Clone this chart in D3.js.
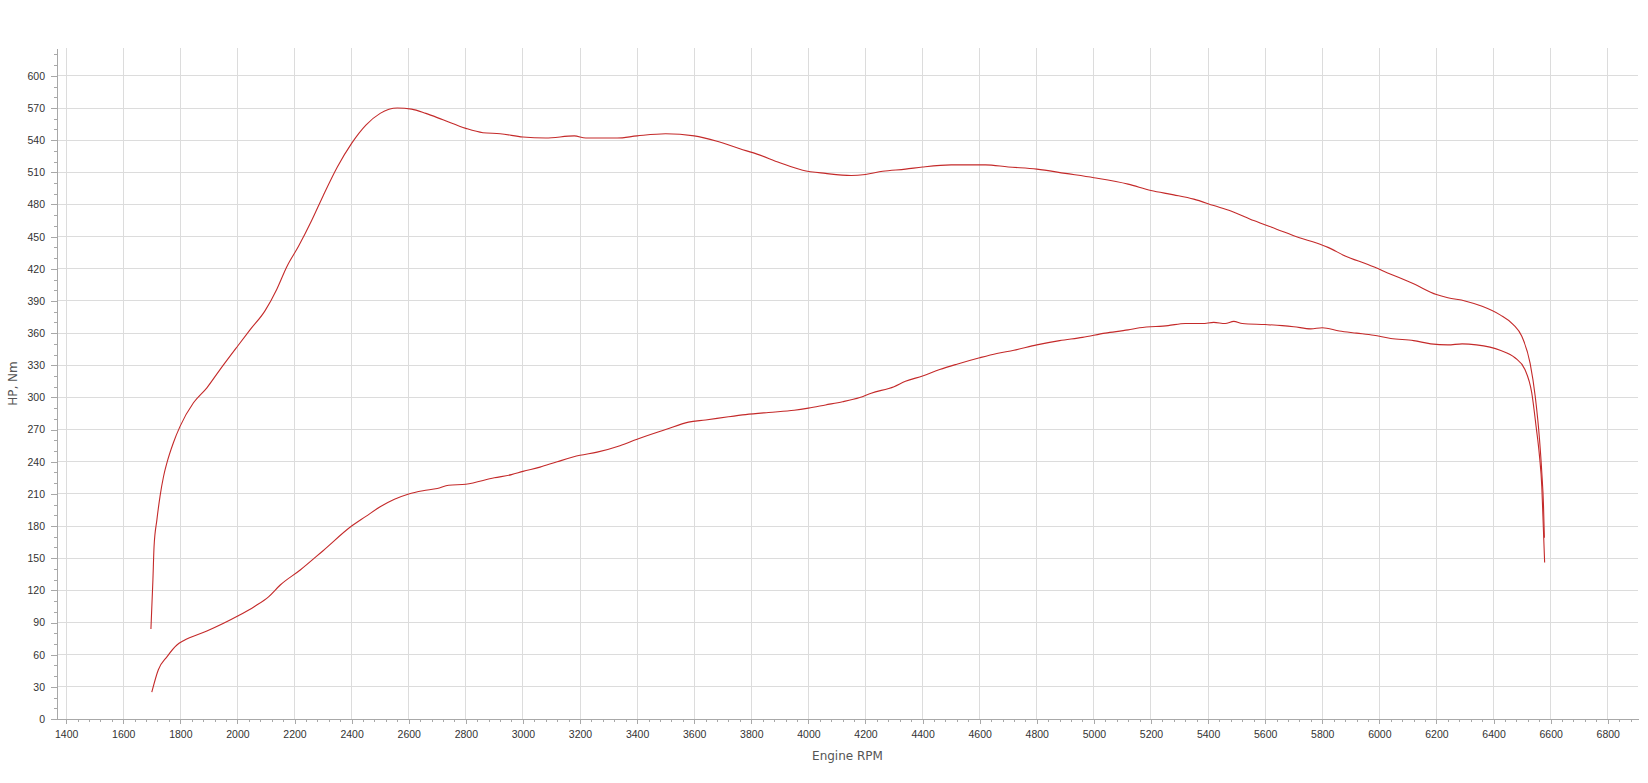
<!DOCTYPE html>
<html>
<head>
<meta charset="utf-8">
<script src="https://cdn.jsdelivr.net/npm/d3@7"></script>
<style>
  body { margin: 0; background: #fff; }
  .axis path, .axis line { stroke: #a8a8a8; }
  .axis text { fill: #333; font-family: "Liberation Sans", Arial, sans-serif; font-size: 10.5px; }
  .grid line { stroke: #dcdcdc; }
  .title { fill: #555; font-family: "DejaVu Sans", Verdana, sans-serif; font-size: 12px; }
</style>
</head>
<body>
<div id="chart"></div>
<script>
var margin = ({top: 48, right: 10, bottom: 64, left: 57});
var w = 1648;
var h = 783;

// torque curve (upper)
var torqueRpm = [1697, 1704, 1708, 1718, 1729, 1741, 1753, 1776, 1799, 1846, 1893, 1939, 2001, 2044, 2097, 2138, 2173, 2214, 2260, 2300, 2350, 2400, 2450, 2500, 2560, 2610, 2660, 2720, 2800, 2860, 2920, 3000, 3080, 3180, 3220, 3330, 3400, 3500, 3600, 3680, 3760, 3820, 3900, 3980, 4060, 4150, 4200, 4260, 4340, 4400, 4500, 4620, 4700, 4800, 4900, 5000, 5120, 5200, 5280, 5350, 5420, 5480, 5560, 5640, 5720, 5780, 5820, 5880, 5960, 6040, 6120, 6200, 6240, 6300, 6360, 6423, 6469, 6499, 6528, 6546, 6561, 6569, 6575, 6578];
var torqueNm = [84, 130, 161, 186, 208, 226, 239, 258, 273, 295, 309, 326, 348, 363, 381, 401, 422, 441, 465, 488, 515, 537, 554, 565, 570, 569, 565, 559, 551, 547, 546, 543, 542, 544, 542, 542, 544, 546, 544, 539, 532, 527, 519, 512, 509, 507, 508, 511, 513, 515, 517, 517, 515, 513, 509, 505, 499, 493, 489, 485, 479, 474, 465, 457, 449, 444, 440, 432, 424, 415, 406, 396, 393, 390, 385, 377, 368, 357, 332, 301, 261, 230, 199, 169];

// power curve (lower)
var powerRpm = [1700, 1723, 1753, 1788, 1811, 1893, 2001, 2060, 2109, 2150, 2220, 2300, 2400, 2450, 2500, 2550, 2600, 2650, 2700, 2740, 2800, 2900, 2960, 3000, 3060, 3120, 3200, 3260, 3340, 3400, 3500, 3580, 3640, 3720, 3780, 3860, 3950, 4000, 4060, 4120, 4180, 4220, 4300, 4340, 4400, 4460, 4520, 4600, 4660, 4720, 4800, 4880, 4960, 5040, 5120, 5160, 5260, 5320, 5380, 5420, 5460, 5490, 5520, 5600, 5660, 5700, 5760, 5800, 5860, 5920, 5980, 6040, 6120, 6180, 6240, 6290, 6340, 6423, 6475, 6510, 6534, 6549, 6561, 6569, 6573, 6579];
var powerHp = [25, 46, 58, 69, 73, 82, 96, 105, 114, 125, 139, 157, 180, 189, 198, 205, 210, 213, 215, 218, 219, 225, 228, 231, 235, 240, 246, 249, 255, 261, 270, 277, 279, 282, 284, 286, 288, 290, 293, 296, 300, 304, 310, 315, 320, 326, 331, 337, 341, 344, 349, 353, 356, 360, 363, 365, 367, 369, 369, 370, 369, 371, 369, 368, 367, 366, 364, 365, 362, 360, 358, 355, 353, 350, 349, 350, 349, 344, 337, 326, 304, 273, 245, 217, 189, 146];

var xTicks = d3.range(1400, 6801, 200);
var xMinor = d3.range(1400, 6901, 40);
var yTicks = d3.range(0, 601, 30);
var yMinor = d3.range(0, 626, 10);

var xScale = d3.scaleLinear()
    .domain([1368, 6906])
    .range([margin.left, w - margin.right]);
var yScale = d3.scaleLinear()
    .domain([0, 626])
    .range([h - margin.bottom, margin.top]);

var svg = d3.select("#chart")
    .append("svg")
    .attr("width", w)
    .attr("height", h);

// grid
svg.append("g").attr("class", "grid")
    .selectAll("line")
    .data(xTicks)
    .enter()
    .append("line")
    .attr("x1", function(d) { return xScale(d); })
    .attr("x2", function(d) { return xScale(d); })
    .attr("y1", margin.top)
    .attr("y2", h - margin.bottom)
    .attr("shape-rendering", "crispEdges");
svg.append("g").attr("class", "grid")
    .selectAll("line")
    .data(yTicks.slice(1))
    .enter()
    .append("line")
    .attr("x1", margin.left)
    .attr("x2", w - margin.right)
    .attr("y1", function(d) { return yScale(d); })
    .attr("y2", function(d) { return yScale(d); })
    .attr("shape-rendering", "crispEdges");

// minor ticks
svg.append("g")
    .attr("class", "x axis")
    .attr("transform", "translate(0," + (h - margin.bottom) + ")")
    .call(d3.axisBottom(xScale).tickValues(xMinor).tickSize(3).tickFormat(""))
    .call(function(g) { g.select(".domain").remove(); });
svg.append("g")
    .attr("class", "y axis")
    .attr("transform", "translate(" + margin.left + ",0)")
    .call(d3.axisLeft(yScale).tickValues(yMinor).tickSize(3).tickFormat(""))
    .call(function(g) { g.select(".domain").remove(); });

// major axes
svg.append("g")
    .attr("class", "x axis")
    .attr("transform", "translate(0," + (h - margin.bottom) + ")")
    .call(d3.axisBottom(xScale).tickValues(xTicks).tickSize(5).tickSizeOuter(0).tickPadding(7).tickFormat(d3.format("d")));
svg.append("g")
    .attr("class", "y axis")
    .attr("transform", "translate(" + margin.left + ",0)")
    .call(d3.axisLeft(yScale).tickValues(yTicks).tickSize(6).tickSizeOuter(0).tickPadding(6).tickFormat(d3.format("d")));

svg.selectAll(".axis").attr("shape-rendering", "crispEdges");
svg.selectAll(".axis text").attr("shape-rendering", null);

// titles
svg.append("text")
    .attr("class", "title")
    .attr("x", (margin.left + w - margin.right) / 2)
    .attr("y", 760)
    .attr("text-anchor", "middle")
    .text("Engine RPM");
svg.append("text")
    .attr("class", "title")
    .attr("transform", "translate(17," + ((margin.top + h - margin.bottom) / 2) + ") rotate(-90)")
    .attr("text-anchor", "middle")
    .text("HP, Nm");

// curves
var line = d3.line()
    .x(function(d) { return xScale(d[0]); })
    .y(function(d) { return yScale(d[1]); })
    .curve(d3.curveMonotoneX);

var series = [d3.zip(torqueRpm, torqueNm), d3.zip(powerRpm, powerHp)];
svg.selectAll(".curve")
    .data(series)
    .enter()
    .append("path")
    .attr("class", "curve")
    .attr("fill", "none")
    .attr("stroke", "#c42a2a")
    .attr("stroke-width", 1.1)
    .attr("d", line);
</script>
</body>
</html>
